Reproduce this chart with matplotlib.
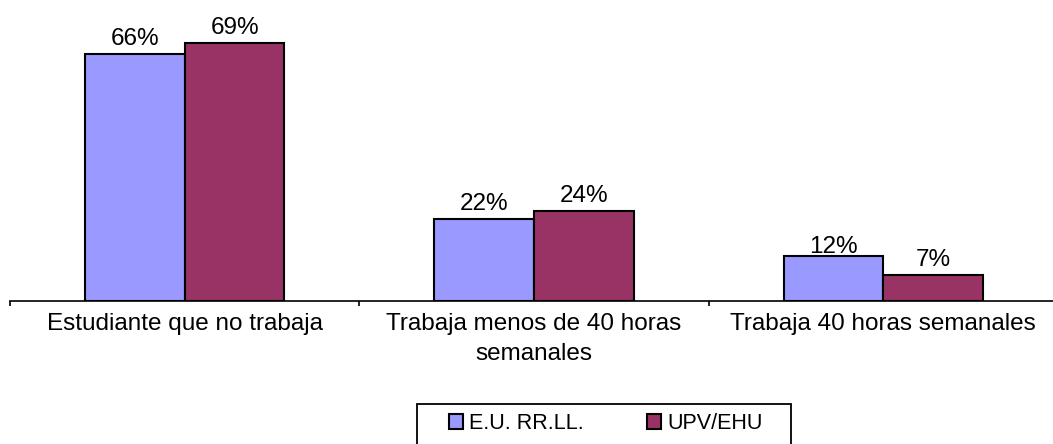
import numpy as np
from matplotlib import pyplot as plt
from matplotlib.patches import Patch, Rectangle

categories = ["Estudiante que no trabaja", "Trabaja menos de 40 horas\nsemanales",
              "Trabaja 40 horas semanales"]
series_names = ["E.U. RR.LL.", "UPV/EHU"]
eu_values = [0.66, 0.22, 0.12]
upv_values = [0.69, 0.24, 0.07]
colors = ["#9999FF", "#993366"]

plt.rcParams['font.family'] = ['Liberation Sans', 'DejaVu Sans']
plt.rcParams['font.size'] = 17.5

W, H = 1053, 444
fig = plt.figure(figsize=(W / 100, H / 100), dpi=100)
ax = fig.add_axes([10 / W, 1 - 301 / H, 1048 / W, 262 / H])

PX = 72 / 100  # points per pixel

x = np.arange(len(categories))
w = 1 / 3.5
for i, vals in enumerate([eu_values, upv_values]):
    pos = x + (i - 0.5) * w
    ax.bar(pos, vals, width=w, color=colors[i], edgecolor="black", linewidth=1.5,
           align="center", zorder=2)
    for p, v in zip(pos, vals):
        off = 3 if (i == 0 and v == 0.12) else 9
        ax.annotate(f"{round(v * 100)}%", (p, v), xytext=(0, off * PX), textcoords="offset points",
                    ha="center", va="baseline", annotation_clip=False, zorder=3)

ax.set_xlim(-0.5, len(categories) - 0.5)
ax.set_ylim(0, 0.70)
for s in ["left", "right", "top"]:
    ax.spines[s].set_visible(False)
ax.spines["bottom"].set_linewidth(1.2)
ax.set_yticks([])
ax.set_xticks(np.arange(len(categories) + 1) - 0.5, minor=True)
ax.set_xticks(x)
ax.set_xticklabels(categories, linespacing=1.45)
ax.tick_params(axis="x", which="major", length=0, pad=12 * PX)
ax.tick_params(axis="x", which="minor", length=5 * PX, width=1.2, direction="out")

# legend box (runs off the bottom edge like the original)
fig.patches.append(Rectangle((417 / W, -0.05), 374 / W, 0.05 + 1 - 404 / H,
                             transform=fig.transFigure, facecolor="none",
                             edgecolor="black", linewidth=1.3))
handles = [Patch(facecolor=c, edgecolor="black", linewidth=1.5) for c in colors]
leg = fig.legend(handles, series_names, loc="upper left", bbox_to_anchor=(449 / W, 1 - 413 / H),
                 ncol=2, frameon=False, fontsize=15.5,
                 handlelength=0.65, handleheight=0.65, handletextpad=0.3, columnspacing=2.9,
                 borderpad=0, borderaxespad=0)

fig.savefig("out.png", dpi=100)
